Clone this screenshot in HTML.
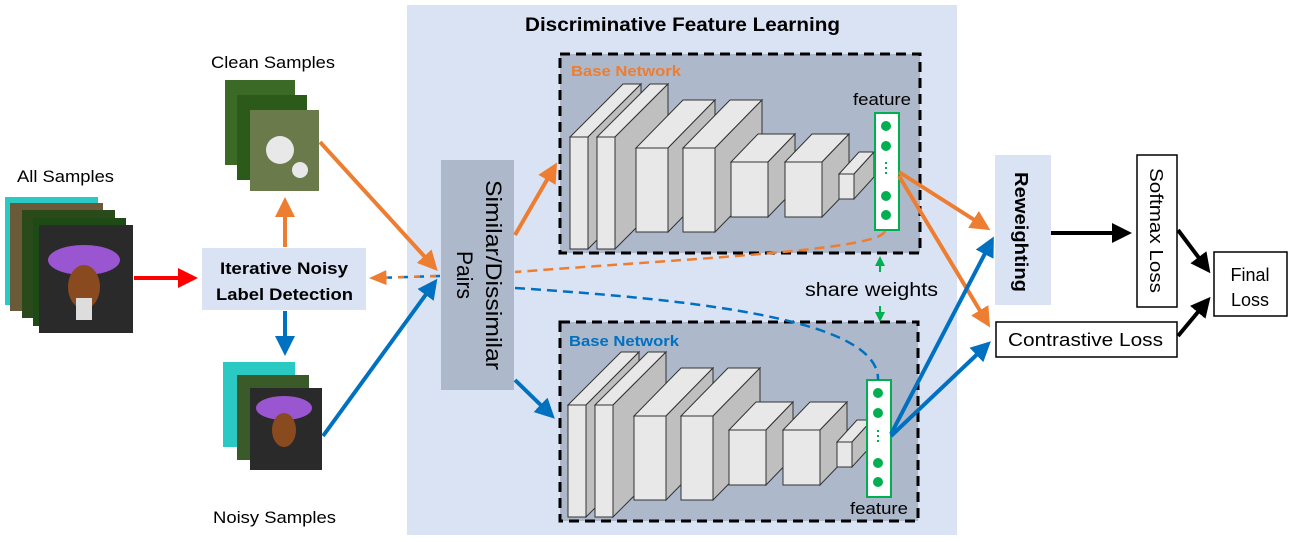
<!DOCTYPE html>
<html><head><meta charset="utf-8"><style>
body{margin:0;background:#fff}
svg{display:block;font-family:"Liberation Sans",sans-serif}
</style></head><body>
<svg id="s" width="1293" height="542" viewBox="0 0 1293 542" xmlns="http://www.w3.org/2000/svg">
<defs>
<marker id="ao" markerWidth="6" markerHeight="6" refX="4" refY="3" orient="auto" markerUnits="strokeWidth"><path d="M0,0.5 L5,3 L0,5.5z" fill="#ed7d31"/></marker>
<marker id="ab" markerWidth="6" markerHeight="6" refX="4" refY="3" orient="auto" markerUnits="strokeWidth"><path d="M0,0.5 L5,3 L0,5.5z" fill="#0070c0"/></marker>
<marker id="ar" markerWidth="6" markerHeight="6" refX="4" refY="3" orient="auto" markerUnits="strokeWidth"><path d="M0,0.5 L5,3 L0,5.5z" fill="#ff0000"/></marker>
<marker id="ak" markerWidth="6" markerHeight="6" refX="4" refY="3" orient="auto" markerUnits="strokeWidth"><path d="M0,0.5 L5,3 L0,5.5z" fill="#000"/></marker>
<marker id="ag" markerWidth="6" markerHeight="6" refX="4" refY="3" orient="auto" markerUnits="strokeWidth"><path d="M0,0.5 L5,3 L0,5.5z" fill="#00b050"/></marker>
<marker id="ao2" markerWidth="8" markerHeight="8" refX="5" refY="4" orient="auto" markerUnits="strokeWidth"><path d="M0,1 L7,4 L0,7z" fill="#ed7d31"/></marker>
</defs>
<rect x="407" y="5" width="550" height="530" fill="#dae3f3"/>
<text x="525" y="31" font-size="19" font-weight="bold" textLength="315" lengthAdjust="spacingAndGlyphs">Discriminative Feature Learning</text>
<rect x="560" y="54" width="360" height="199" fill="#adb9ca" stroke="#000" stroke-width="3" stroke-dasharray="10,6"/>
<rect x="560" y="322" width="358" height="199" fill="#adb9ca" stroke="#000" stroke-width="3" stroke-dasharray="10,6"/>
<text x="571" y="76" font-size="15" font-weight="bold" fill="#ed7d31" textLength="110" lengthAdjust="spacingAndGlyphs">Base Network</text>
<text x="569" y="346" font-size="15" font-weight="bold" fill="#0070c0" textLength="110" lengthAdjust="spacingAndGlyphs">Base Network</text>
<g id="cubes"></g>
<text x="853" y="105" font-size="17" textLength="58" lengthAdjust="spacingAndGlyphs">feature</text>
<rect x="875" y="113" width="24" height="117" fill="#fff" stroke="#00b050" stroke-width="2"/>
<g fill="#00b050"><circle cx="886" cy="126" r="5"/><circle cx="886" cy="146" r="5"/><circle cx="886" cy="196" r="5"/><circle cx="886" cy="215" r="5"/>
<rect x="885" y="162" width="2" height="2"/><rect x="885" y="167" width="2" height="2"/><rect x="885" y="172" width="2" height="2"/></g>
<rect x="867" y="380" width="24" height="117" fill="#fff" stroke="#00b050" stroke-width="2"/>
<g fill="#00b050"><circle cx="878" cy="393" r="5"/><circle cx="878" cy="413" r="5"/><circle cx="878" cy="463" r="5"/><circle cx="878" cy="482" r="5"/>
<rect x="877" y="430" width="2" height="2"/><rect x="877" y="435" width="2" height="2"/><rect x="877" y="440" width="2" height="2"/></g>
<text x="850" y="514" font-size="17" textLength="58" lengthAdjust="spacingAndGlyphs">feature</text>
<text x="805" y="296" font-size="19" textLength="133" lengthAdjust="spacingAndGlyphs">share weights</text>
<line x1="880" y1="272" x2="880" y2="258" stroke="#00b050" stroke-width="2" marker-end="url(#ag)"/>
<line x1="880" y1="306" x2="880" y2="320" stroke="#00b050" stroke-width="2" marker-end="url(#ag)"/>
<rect x="441" y="160" width="73" height="230" fill="#adb9ca"/>
<text transform="translate(486,180) rotate(90)" font-size="22" textLength="190" lengthAdjust="spacingAndGlyphs">Similar/Dissimilar</text>
<text transform="translate(457,251) rotate(90)" font-size="22" textLength="48" lengthAdjust="spacingAndGlyphs">Pairs</text>
<text x="17" y="182" font-size="17" textLength="97" lengthAdjust="spacingAndGlyphs">All Samples</text>
<rect x="5" y="197" width="93" height="108" fill="#2bc9c4"/>
<rect x="10" y="203" width="93" height="108" fill="#6a5a3a"/>
<rect x="22" y="210" width="93" height="108" fill="#2b4a1c"/>
<rect x="33" y="218" width="93" height="108" fill="#1e4a15"/>
<rect x="39" y="225" width="94" height="108" fill="#2a2a2a"/>
<ellipse cx="84" cy="260" rx="36" ry="15" fill="#9a55d0"/>
<ellipse cx="84" cy="287" rx="16" ry="22" fill="#8a4a20"/>
<rect x="76" y="298" width="16" height="22" fill="#ddd"/>
<text x="211" y="68" font-size="17" textLength="124" lengthAdjust="spacingAndGlyphs">Clean Samples</text>
<rect x="225" y="80" width="70" height="85" fill="#3a6a25"/>
<rect x="237" y="95" width="70" height="85" fill="#2c5a1a"/>
<rect x="250" y="110" width="69" height="81" fill="#6a7a4a"/>
<circle cx="280" cy="150" r="14" fill="#e8e8e8"/><circle cx="300" cy="170" r="8" fill="#e8e8e8"/>
<text x="213" y="523" font-size="17" textLength="123" lengthAdjust="spacingAndGlyphs">Noisy Samples</text>
<rect x="223" y="362" width="72" height="85" fill="#2bc9c4"/>
<rect x="237" y="375" width="72" height="85" fill="#3a5a2a"/>
<rect x="250" y="388" width="72" height="82" fill="#2a2a2a"/>
<ellipse cx="284" cy="408" rx="28" ry="12" fill="#9a55d0"/>
<ellipse cx="284" cy="430" rx="12" ry="17" fill="#8a4a20"/>
<rect x="202" y="248" width="164" height="62" fill="#dae3f3"/>
<text x="220" y="274" font-size="17" font-weight="bold" textLength="128" lengthAdjust="spacingAndGlyphs">Iterative Noisy</text>
<text x="216" y="300" font-size="17" font-weight="bold" textLength="137" lengthAdjust="spacingAndGlyphs">Label Detection</text>
<rect x="995" y="155" width="56" height="150" fill="#dae3f3"/>
<text transform="translate(1015,172) rotate(90)" font-size="18" font-weight="bold" textLength="120" lengthAdjust="spacingAndGlyphs">Reweighting</text>
<rect x="1137" y="155" width="40" height="152" fill="#fff" stroke="#000" stroke-width="1.5"/>
<text transform="translate(1150,168) rotate(90)" font-size="18" textLength="125" lengthAdjust="spacingAndGlyphs">Softmax Loss</text>
<rect x="996" y="322" width="181" height="35" fill="#fff" stroke="#000" stroke-width="1.5"/>
<text x="1008" y="346" font-size="18" textLength="155" lengthAdjust="spacingAndGlyphs">Contrastive Loss</text>
<rect x="1214" y="252" width="73" height="64" fill="#fff" stroke="#000" stroke-width="1.5"/>
<text x="1250" y="281" font-size="18" text-anchor="middle">Final</text>
<text x="1250" y="306" font-size="18" text-anchor="middle">Loss</text>
<g fill="none" stroke-width="4">
<line x1="134" y1="278" x2="194" y2="278" stroke="#ff0000" marker-end="url(#ar)"/>
<line x1="285" y1="247" x2="285" y2="201" stroke="#ed7d31" marker-end="url(#ao)"/>
<line x1="285" y1="311" x2="285" y2="352" stroke="#0070c0" marker-end="url(#ab)"/>
<line x1="320" y1="142" x2="435" y2="268" stroke="#ed7d31" marker-end="url(#ao)"/>
<line x1="323" y1="436" x2="435" y2="282" stroke="#0070c0" marker-end="url(#ab)"/>
<line x1="515" y1="235" x2="555" y2="166" stroke="#ed7d31" marker-end="url(#ao)"/>
<line x1="515" y1="380" x2="552" y2="416" stroke="#0070c0" marker-end="url(#ab)"/>
<line x1="899" y1="172" x2="987" y2="228" stroke="#ed7d31" marker-end="url(#ao)"/>
<line x1="899" y1="176" x2="988" y2="324" stroke="#ed7d31" marker-end="url(#ao)"/>
<line x1="891" y1="434" x2="992" y2="240" stroke="#0070c0" marker-end="url(#ab)"/>
<line x1="891" y1="436" x2="988" y2="344" stroke="#0070c0" marker-end="url(#ab)"/>
<line x1="1051" y1="233" x2="1128" y2="233" stroke="#000" marker-end="url(#ak)"/>
<line x1="1178" y1="230" x2="1208" y2="270" stroke="#000" marker-end="url(#ak)"/>
<line x1="1178" y1="336" x2="1208" y2="300" stroke="#000" marker-end="url(#ak)"/>
</g>
<g fill="none" stroke-width="2.5" stroke-dasharray="10,6">
<path d="M885,231 C880,250 700,258 515,272" stroke="#ed7d31"/>
<path d="M515,288 C700,300 880,320 878,380" stroke="#0070c0"/>
<line x1="440" y1="276" x2="374" y2="278" stroke="#0070c0"/>
<line x1="436" y1="276" x2="374" y2="278" stroke="#ed7d31" stroke-dasharray="6,10" marker-end="url(#ao2)"/>
</g>
</svg>
<script>
var g=document.getElementById('cubes'),ns='http://www.w3.org/2000/svg';
function cube(x,y,w,h,dx,dy){
 function p(pts,f){var e=document.createElementNS(ns,'polygon');e.setAttribute('points',pts);e.setAttribute('fill',f);e.setAttribute('stroke','#333');e.setAttribute('stroke-width','1');g.appendChild(e);}
 p([x,y,x+dx,y+dy,x+w+dx,y+dy,x+w,y].join(' '),'#e8e8e8');
 p([x+w,y,x+w+dx,y+dy,x+w+dx,y+h+dy,x+w,y+h].join(' '),'#bfbfbf');
 p([x,y,x+w,y,x+w,y+h,x,y+h].join(' '),'#e8e8e8');
}
[[0,0],[-2,268]].forEach(function(o){var a=o[0],b=o[1];
cube(570+a,137+b,18,112,53,-53);cube(597+a,137+b,18,112,53,-53);
cube(636+a,148+b,32,84,47,-48);cube(683+a,148+b,32,84,47,-48);
cube(731+a,162+b,37,55,27,-28);cube(785+a,162+b,37,55,27,-28);
cube(839+a,174+b,15,25,20,-22);});
</script>
</body></html>
